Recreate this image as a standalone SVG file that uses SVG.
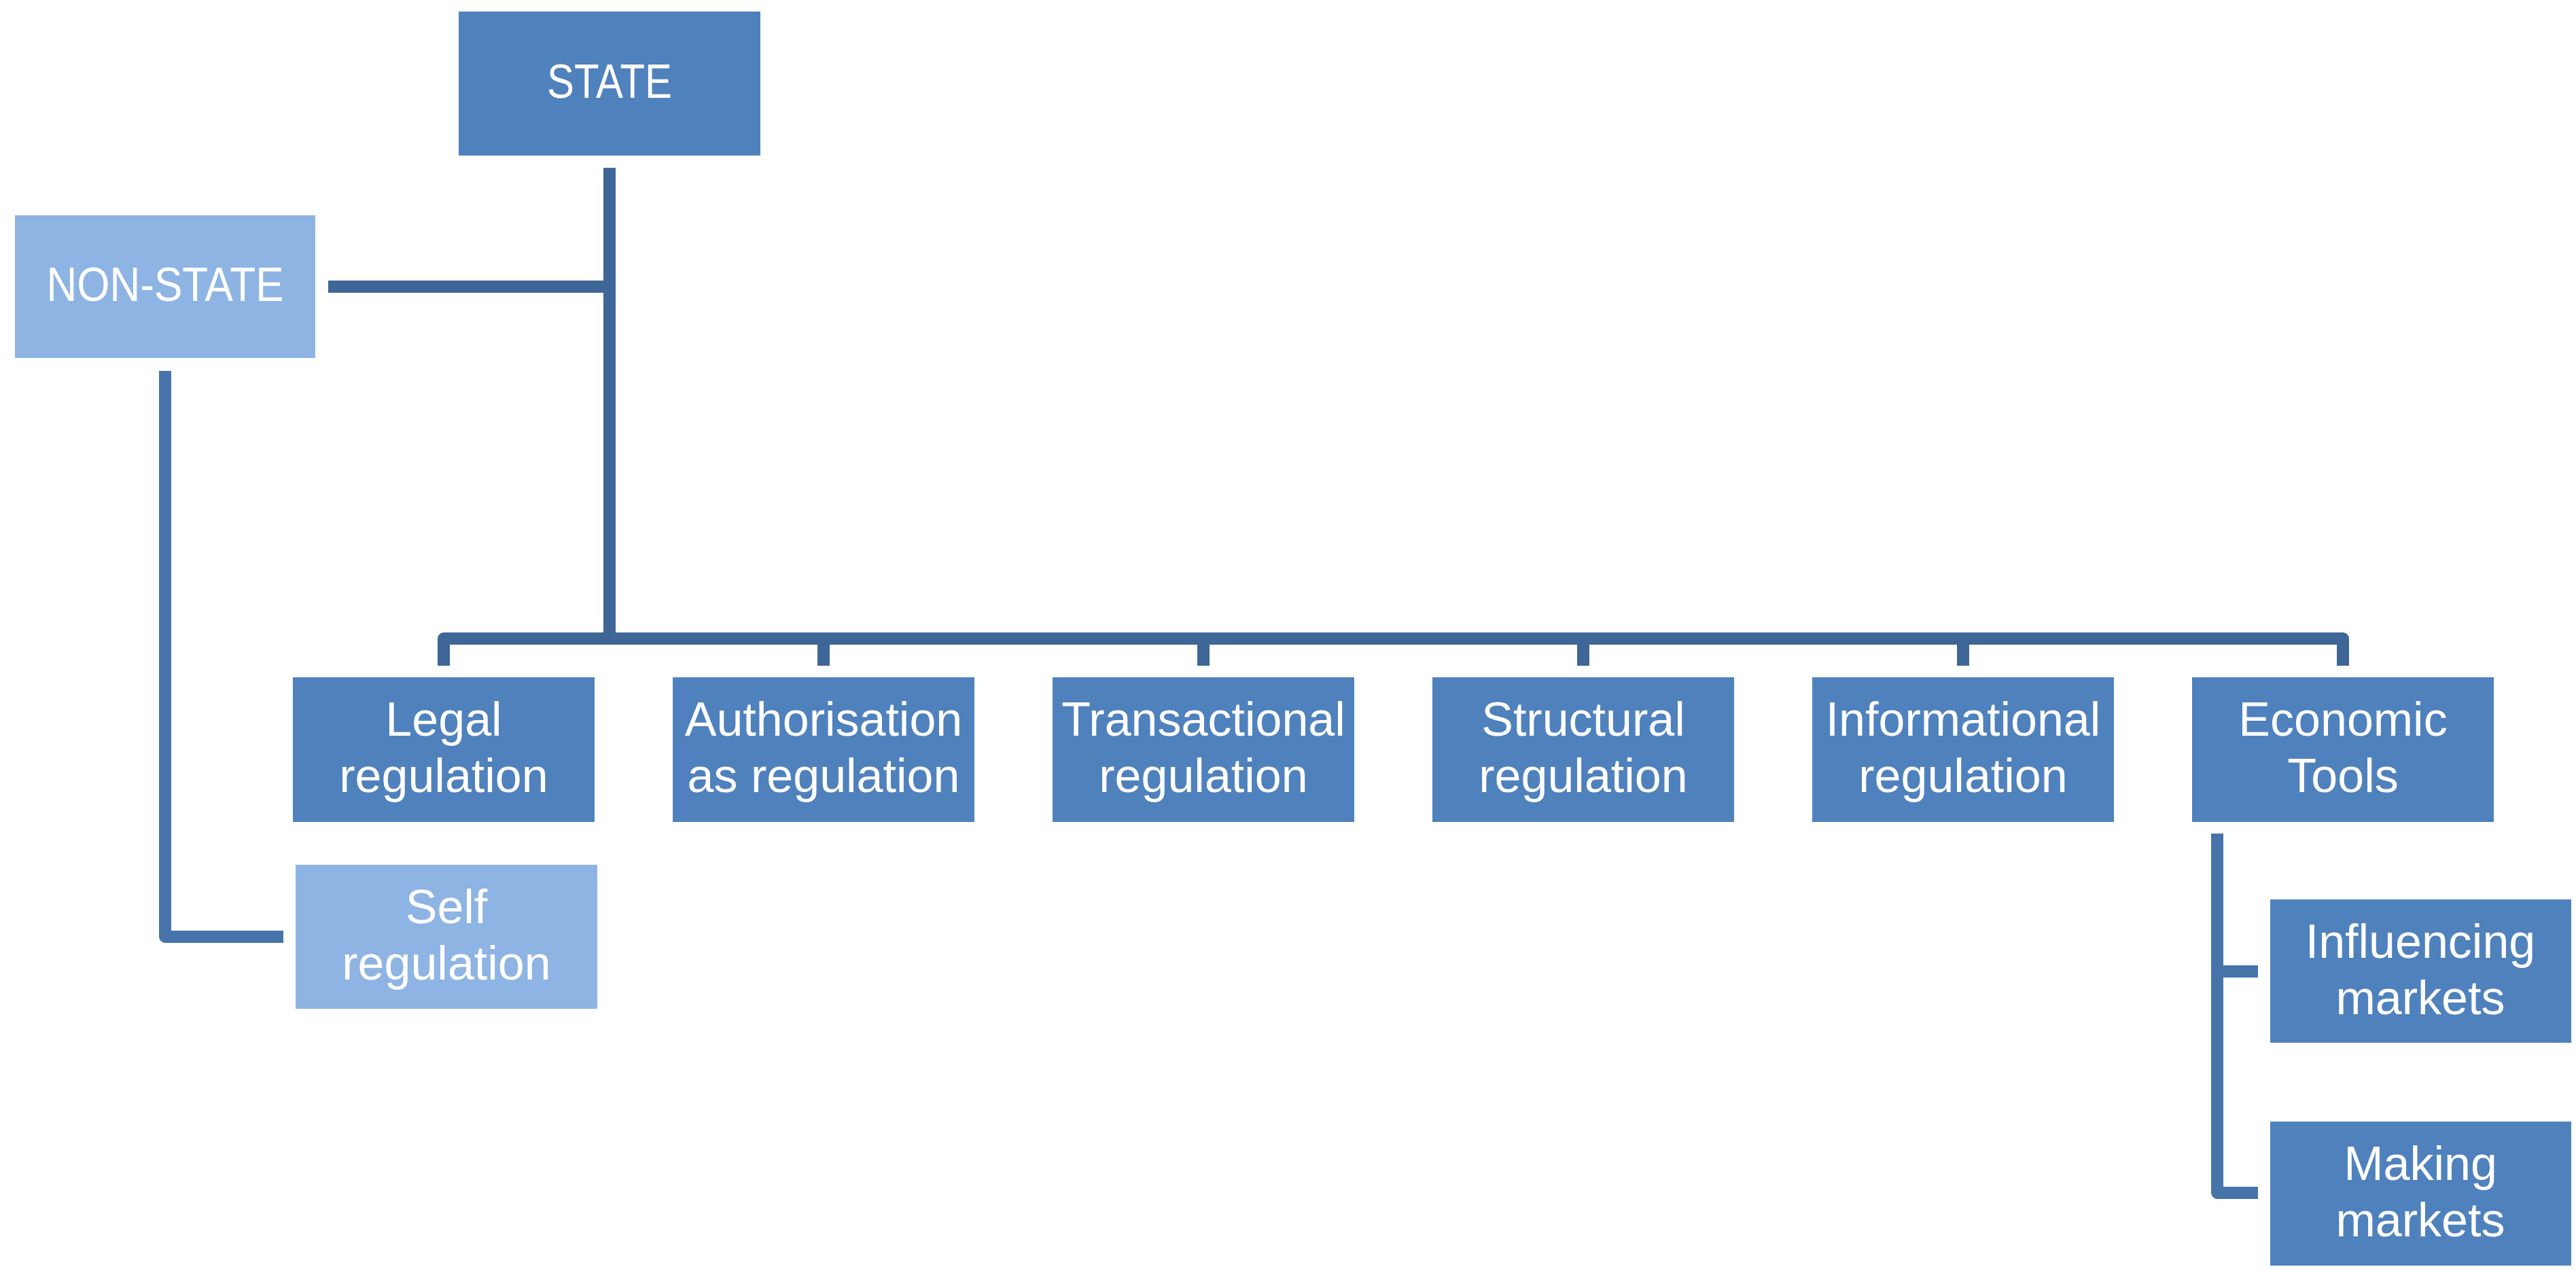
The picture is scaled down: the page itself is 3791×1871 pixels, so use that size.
<svg xmlns="http://www.w3.org/2000/svg" width="3791" height="1871" viewBox="0 0 3791 1871">
<style>
.box{fill:#4F81BD}
.light{fill:#8EB4E3}
.t{font-family:"Liberation Sans",Arial,sans-serif;font-size:70px;fill:#FFFFFF;text-anchor:middle}
.c1{fill:none;stroke:#3E6697;stroke-width:18;stroke-linejoin:round;stroke-linecap:butt}
.c2{fill:none;stroke:#4674AA;stroke-width:18;stroke-linejoin:round;stroke-linecap:butt}
</style>
<rect width="3791" height="1871" fill="#FFFFFF"/>
<g id="connectors">
<path class="c1" d="M897 247 V940"/>
<path class="c1" d="M483 422 H897"/>
<path class="c1" d="M653 980 V940 H3448 V980"/>
<path class="c1" d="M1212 940 V980"/>
<path class="c1" d="M1771 940 V980"/>
<path class="c1" d="M2330 940 V980"/>
<path class="c1" d="M2889 940 V980"/>
<path class="c2" d="M243 546 V1379 H417"/>
<path class="c2" d="M3263 1227 V1756 H3323"/>
<path class="c2" d="M3263 1430 H3323"/>
</g>
<g id="state">
<rect class="box" x="675" y="17" width="444" height="212"/>
<text class="t" x="897" y="144" textLength="184" lengthAdjust="spacingAndGlyphs">STATE</text>
</g>
<g id="non-state">
<rect class="light" x="22" y="317" width="442" height="210"/>
<text class="t" x="243" y="443" textLength="349" lengthAdjust="spacingAndGlyphs">NON-STATE</text>
</g>
<g id="legal">
<rect class="box" x="431" y="997" width="444" height="213"/>
<text class="t" x="653" y="1083">Legal</text>
<text class="t" x="653" y="1166">regulation</text>
</g>
<g id="authorisation">
<rect class="box" x="990" y="997" width="444" height="213"/>
<text class="t" x="1212" y="1083">Authorisation</text>
<text class="t" x="1212" y="1166">as regulation</text>
</g>
<g id="transactional">
<rect class="box" x="1549" y="997" width="444" height="213"/>
<text class="t" x="1771" y="1083">Transactional</text>
<text class="t" x="1771" y="1166">regulation</text>
</g>
<g id="structural">
<rect class="box" x="2108" y="997" width="444" height="213"/>
<text class="t" x="2330" y="1083">Structural</text>
<text class="t" x="2330" y="1166">regulation</text>
</g>
<g id="informational">
<rect class="box" x="2667" y="997" width="444" height="213"/>
<text class="t" x="2889" y="1083">Informational</text>
<text class="t" x="2889" y="1166">regulation</text>
</g>
<g id="economic">
<rect class="box" x="3226" y="997" width="444" height="213"/>
<text class="t" x="3448" y="1083">Economic</text>
<text class="t" x="3448" y="1166">Tools</text>
</g>
<g id="self">
<rect class="light" x="435" y="1273" width="444" height="212"/>
<text class="t" x="657" y="1359">Self</text>
<text class="t" x="657" y="1442">regulation</text>
</g>
<g id="influencing">
<rect class="box" x="3341" y="1324" width="443" height="211"/>
<text class="t" x="3562" y="1410">Influencing</text>
<text class="t" x="3562" y="1493">markets</text>
</g>
<g id="making">
<rect class="box" x="3341" y="1651" width="443" height="212"/>
<text class="t" x="3562" y="1737">Making</text>
<text class="t" x="3562" y="1820">markets</text>
</g>
</svg>
